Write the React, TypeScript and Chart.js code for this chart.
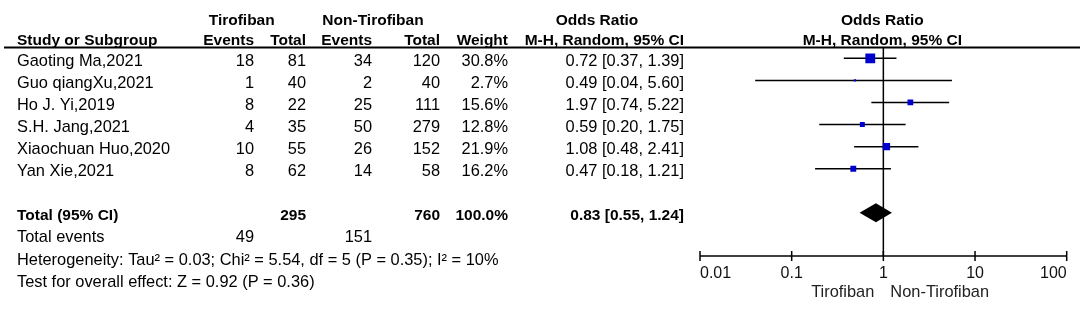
import React, { useEffect, useRef } from 'react';
import { Chart, registerables } from 'chart.js';

Chart.register(...registerables);

const studies = ['Gaoting Ma,2021', 'Guo qiangXu,2021', 'Ho J. Yi,2019', 'S.H. Jang,2021', 'Xiaochuan Huo,2020', 'Yan Xie,2021'];
const tiroEvents = [18, 1, 8, 4, 10, 8];
const tiroTotal = [81, 40, 22, 35, 55, 62];
const nonEvents = [34, 2, 25, 50, 26, 14];
const nonTotal = [120, 40, 111, 279, 152, 58];
const weights = [30.8, 2.7, 15.6, 12.8, 21.9, 16.2];
const oddsRatios = [0.72, 0.49, 1.97, 0.59, 1.08, 0.47];
const ciLower = [0.37, 0.04, 0.74, 0.2, 0.48, 0.18];
const ciUpper = [1.39, 5.6, 5.22, 1.75, 2.41, 1.21];

const pooledOR = 0.83;
const pooledLower = 0.55;
const pooledUpper = 1.24;
const totalTiro = 295;
const totalNon = 760;
const totalWeight = '100.0%';
const totalEventsTiro = 49;
const totalEventsNon = 151;
const heterogeneityText = 'Heterogeneity: Tau\u00b2 = 0.03; Chi\u00b2 = 5.54, df = 5 (P = 0.35); I\u00b2 = 10%';
const overallEffectText = 'Test for overall effect: Z = 0.92 (P = 0.36)';

const axisTicks = [0.01, 0.1, 1, 10, 100];
const axisTickLabels = ['0.01', '0.1', '1', '10', '100'];
const favoursLeft = 'Tirofiban';
const favoursRight = 'Non-Tirofiban';

const FONT = '"Liberation Sans", Arial, sans-serif';
const REG = `16.4px ${FONT}`;
const AXF = `16px ${FONT}`;
const BOLD = `bold 15.5px ${FONT}`;

const COL = { study: 17, evT: 254, totT: 306, evC: 372, totC: 440, weight: 508, or: 684 };

const fmt = (v: number) => v.toFixed(2);
const orText = (o: number, l: number, h: number) => `${fmt(o)} [${fmt(l)}, ${fmt(h)}]`;

function txt(ctx: CanvasRenderingContext2D, s: string, x: number, y: number, align: CanvasTextAlign, font: string, color = '#000') {
  ctx.font = font;
  ctx.fillStyle = color;
  ctx.textAlign = align;
  ctx.textBaseline = 'alphabetic';
  ctx.fillText(s, x, y);
}

const forestPlugin = {
  id: 'forest',
  beforeDatasetsDraw(chart: any) {
    const { ctx, chartArea, scales } = chart;
    const xs = scales.x;
    ctx.save();
    ctx.strokeStyle = '#000';
    // header rule
    ctx.lineWidth = 2;
    ctx.beginPath();
    ctx.moveTo(4, chartArea.top);
    ctx.lineTo(1080, chartArea.top);
    ctx.stroke();
    // line of no effect
    const x1 = xs.getPixelForValue(1);
    ctx.lineWidth = 1.5;
    ctx.beginPath();
    ctx.moveTo(x1, chartArea.top);
    ctx.lineTo(x1, chartArea.bottom);
    ctx.stroke();
    // axis
    const ay = chartArea.bottom;
    ctx.beginPath();
    ctx.moveTo(xs.getPixelForValue(axisTicks[0]), ay);
    ctx.lineTo(xs.getPixelForValue(axisTicks[axisTicks.length - 1]), ay);
    ctx.stroke();
    axisTicks.forEach((t, i) => {
      const px = xs.getPixelForValue(t);
      ctx.beginPath();
      ctx.moveTo(px, ay - 5);
      ctx.lineTo(px, ay + 5);
      ctx.stroke();
      const align: CanvasTextAlign = i === 0 ? 'left' : i === axisTicks.length - 1 ? 'right' : 'center';
      txt(ctx, axisTickLabels[i], px, ay + 22, align, AXF, '#111');
    });
    txt(ctx, favoursLeft, x1 - 9, ay + 41, 'right', REG, '#222');
    txt(ctx, favoursRight, x1 + 7, ay + 41, 'left', REG, '#222');
    ctx.restore();
  },
  afterDatasetsDraw(chart: any) {
    const { ctx, chartArea, scales } = chart;
    const xs = scales.x;
    const ys = scales.y;
    ctx.save();
    // pooled diamond
    const dy = ys.getPixelForValue(7);
    ctx.fillStyle = '#000';
    ctx.beginPath();
    ctx.moveTo(xs.getPixelForValue(pooledLower), dy);
    ctx.lineTo(xs.getPixelForValue(pooledOR), dy - 9.5);
    ctx.lineTo(xs.getPixelForValue(pooledUpper), dy);
    ctx.lineTo(xs.getPixelForValue(pooledOR), dy + 9.5);
    ctx.closePath();
    ctx.fill();

    // headers
    const hB = chartArea.top - 2.5;
    const hA = chartArea.top - 22.5;
    txt(ctx, 'Tirofiban', 241.7, hA, 'center', BOLD);
    txt(ctx, 'Non-Tirofiban', 373, hA, 'center', BOLD);
    txt(ctx, 'Odds Ratio', 597, hA, 'center', BOLD);
    txt(ctx, 'Odds Ratio', xs.getPixelForValue(1) - 1, hA, 'center', BOLD);
    txt(ctx, 'Study or Subgroup', COL.study, hB, 'left', BOLD);
    txt(ctx, 'Events', COL.evT, hB, 'right', BOLD);
    txt(ctx, 'Total', COL.totT, hB, 'right', BOLD);
    txt(ctx, 'Events', COL.evC, hB, 'right', BOLD);
    txt(ctx, 'Total', COL.totC, hB, 'right', BOLD);
    txt(ctx, 'Weight', COL.weight, hB, 'right', BOLD);
    txt(ctx, 'M-H, Random, 95% CI', COL.or, hB, 'right', BOLD);
    txt(ctx, 'M-H, Random, 95% CI', xs.getPixelForValue(1) - 1, hB, 'center', BOLD);

    const base = (i: number) => ys.getPixelForValue(i) + 7.5;
    studies.forEach((s, i) => {
      const b = base(i);
      txt(ctx, s, COL.study, b, 'left', REG);
      txt(ctx, String(tiroEvents[i]), COL.evT, b, 'right', REG);
      txt(ctx, String(tiroTotal[i]), COL.totT, b, 'right', REG);
      txt(ctx, String(nonEvents[i]), COL.evC, b, 'right', REG);
      txt(ctx, String(nonTotal[i]), COL.totC, b, 'right', REG);
      txt(ctx, `${weights[i].toFixed(1)}%`, COL.weight, b, 'right', REG);
      txt(ctx, orText(oddsRatios[i], ciLower[i], ciUpper[i]), COL.or, b, 'right', REG);
    });
    const bt = base(7);
    txt(ctx, 'Total (95% CI)', COL.study, bt, 'left', BOLD);
    txt(ctx, String(totalTiro), COL.totT, bt, 'right', BOLD);
    txt(ctx, String(totalNon), COL.totC, bt, 'right', BOLD);
    txt(ctx, totalWeight, COL.weight, bt, 'right', BOLD);
    txt(ctx, orText(pooledOR, pooledLower, pooledUpper), COL.or, bt, 'right', BOLD);
    const be = base(8);
    txt(ctx, 'Total events', COL.study, be, 'left', REG);
    txt(ctx, String(totalEventsTiro), COL.evT, be, 'right', REG);
    txt(ctx, String(totalEventsNon), COL.evC, be, 'right', REG);
    txt(ctx, heterogeneityText, COL.study, base(9), 'left', REG);
    txt(ctx, overallEffectText, COL.study, base(10), 'left', REG);
    ctx.restore();
  },
};

export default function App() {
  const ref = useRef<HTMLCanvasElement | null>(null);
  useEffect(() => {
    if (!ref.current) return;
    const squareSide = weights.map((w) => 1.5 + 0.27 * w);
    const ciSets = studies.map((s, i) => ({
      label: s,
      data: [
        { x: ciLower[i], y: i },
        { x: ciUpper[i], y: i },
      ],
      showLine: true,
      borderColor: '#000',
      borderWidth: 1.5,
      pointRadius: 0,
      order: 1,
    }));
    const chart = new Chart(ref.current, {
      type: 'scatter',
      data: {
        datasets: [
          {
            label: 'OR',
            data: oddsRatios.map((o, i) => ({ x: o, y: i })),
            pointStyle: 'rect',
            pointRadius: squareSide.map((s) => s / Math.SQRT2),
            backgroundColor: '#0000cc',
            borderColor: '#0000cc',
            borderWidth: 0,
            order: 0,
          } as any,
          ...ciSets,
        ],
      },
      options: {
        responsive: false,
        animation: false,
        devicePixelRatio: 1,
        events: [],
        layout: { padding: { left: 700, right: 17.3, top: 47.5, bottom: 58 } },
        plugins: { legend: { display: false }, tooltip: { enabled: false } },
        scales: {
          x: { type: 'logarithmic', min: 0.01, max: 100, display: false },
          y: { type: 'linear', min: -0.49, max: 8.954, reverse: true, display: false },
        },
      },
      plugins: [forestPlugin],
    });
    return () => chart.destroy();
  }, []);
  return (
    <div style={{ position: 'absolute', left: 0, top: 0, width: 1084, height: 314, background: '#fff' }}>
      <canvas ref={ref} width={1084} height={314} />
    </div>
  );
}
